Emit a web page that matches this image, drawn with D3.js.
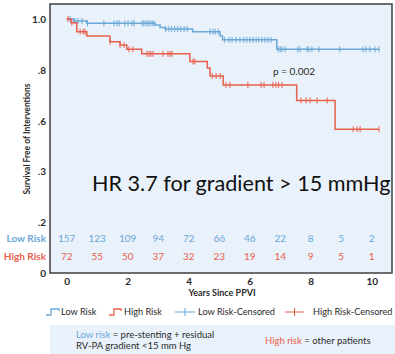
<!DOCTYPE html>
<html>
<head>
<meta charset="utf-8">
<script src="https://cdn.jsdelivr.net/npm/d3@7"></script>
<style>
  body { margin: 0; background: #fff; }
  svg { display: block; font-family: Lato, "Open Sans", sans-serif; }
</style>
</head>
<body>
<div id="chart"></div>
<script>
// Kaplan-Meier steps: [years, survival]
const lowRiskSteps = [[0, 1.0], [0.24, 0.992], [0.66, 0.983], [2.9, 0.976], [3.06, 0.967], [3.22, 0.961],
  [4.13, 0.950], [5.03, 0.933], [5.11, 0.918], [6.89, 0.881], [10.24, 0.881]];
const highRiskSteps = [[0, 1.0], [0.14, 0.985], [0.33, 0.950], [0.66, 0.933], [1.42, 0.911], [1.75, 0.898],
  [1.97, 0.881], [2.46, 0.863], [4.04, 0.833], [4.61, 0.807], [4.70, 0.776], [5.13, 0.741],
  [7.54, 0.680], [8.80, 0.567], [10.24, 0.567]];
const lowRiskCensored = [0.11, 0.27, 0.37, 0.50, 0.68, 1.22, 1.55, 1.65, 1.72, 1.91, 2.01, 2.14, 2.21,
  2.47, 2.53, 2.60, 2.67, 2.73, 2.80, 2.86, 3.25, 3.35, 3.44, 3.54, 3.64, 3.74, 3.85, 3.95,
  4.70, 4.80, 4.87, 4.97, 5.17, 5.32, 5.42, 5.55, 5.68, 5.81, 5.91, 6.01, 6.11, 6.21, 6.30, 6.40,
  6.50, 6.60, 6.70, 6.93, 7.00, 7.06, 7.16, 7.58, 7.65, 7.88, 7.94, 8.04, 8.27, 8.95, 9.71, 9.81,
  9.94, 10.11, 10.24];
const highRiskCensored = [0.04, 0.17, 0.44, 0.54, 0.60, 1.42, 1.75, 1.88, 2.04, 2.17, 2.63, 2.70, 2.76,
  2.83, 3.16, 3.32, 3.39, 3.45, 4.14, 4.20, 4.77, 4.90, 5.03, 5.22, 5.35, 5.94, 6.37, 6.47, 6.76,
  6.86, 6.95, 7.06, 7.68, 7.85, 7.98, 8.21, 8.54, 9.39, 9.52, 9.62, 10.24];
const riskYears = [0, 1, 2, 3, 4, 5, 6, 7, 8, 9, 10];
const lowAtRisk = [157, 123, 109, 94, 72, 66, 46, 22, 8, 5, 2];
const highAtRisk = [72, 55, 50, 37, 32, 23, 19, 14, 9, 5, 1];
const xTicks = [0, 2, 4, 6, 8, 10];
const yTicks = [1.0, 0.8, 0.6, 0.4, 0.2, 0];
const yTickLabels = ["1.0", ".8", ".6", ".3", ".2", "0"];

const blue = "#6aa8d8", red = "#e8604c", ink = "#2b2b2b";
const W = 395, H = 354;
const frame = { left: 50, top: 4, right: 392, bottom: 273 };

const svg = d3.select("#chart").append("svg")
  .attr("width", W)
  .attr("height", H);

const x = d3.scaleLinear().domain([0, 10]).range([66.7, 371.7]);
const y = d3.scaleLinear().domain([0, 1]).range([273.5, 19]);

// plot panel
svg.append("rect")
  .attr("x", frame.left).attr("y", frame.top)
  .attr("width", frame.right - frame.left).attr("height", frame.bottom - frame.top)
  .attr("fill", "#e9f1fa")
  .attr("stroke", "#4a4a4a")
  .attr("stroke-width", 1.6);

// y axis (labels only)
const yAxis = svg.append("g")
  .attr("transform", `translate(${frame.left},0)`)
  .call(d3.axisLeft(y).tickValues(yTicks).tickSize(0).tickPadding(4)
    .tickFormat((d, i) => yTickLabels[i]));
yAxis.select(".domain").remove();
yAxis.selectAll("text")
  .attr("fill", ink)
  .style("font-family", "Lato, sans-serif")
  .style("font-size", "10px")
  .style("font-weight", "bold");

// x axis (labels only)
const xAxis = svg.append("g")
  .attr("transform", `translate(0,${frame.bottom})`)
  .call(d3.axisBottom(x).tickValues(xTicks).tickSize(0).tickPadding(5));
xAxis.select(".domain").remove();
xAxis.selectAll("text")
  .attr("fill", ink)
  .style("font-family", "Lato, sans-serif")
  .style("font-size", "10px")
  .style("font-weight", "bold");

svg.append("text")
  .attr("x", 222).attr("y", 296)
  .attr("text-anchor", "middle")
  .attr("fill", ink)
  .style("font-size", "9px").style("font-weight", "bold")
  .text("Years Since PPVI");

svg.append("text")
  .attr("transform", "translate(30,139) rotate(-90)")
  .attr("text-anchor", "middle")
  .attr("fill", ink)
  .style("font-size", "8.5px").style("font-weight", "bold")
  .text("Survival Free of Interventions");

// survival curves
const line = d3.line()
  .curve(d3.curveStepAfter)
  .x(d => x(d[0]))
  .y(d => y(d[1]));

function valueAt(steps, t) {
  let v = steps[0][1];
  steps.forEach(s => { if (s[0] <= t) v = s[1]; });
  return v;
}

const series = [
  { steps: lowRiskSteps, censored: lowRiskCensored, color: blue },
  { steps: highRiskSteps, censored: highRiskCensored, color: red }
];

series.forEach(s => {
  svg.append("path")
    .attr("d", line(s.steps))
    .attr("fill", "none")
    .attr("stroke", s.color)
    .attr("stroke-width", 1.5);

  svg.append("g").selectAll("line")
    .data(s.censored)
    .enter().append("line")
    .attr("x1", d => x(d)).attr("x2", d => x(d))
    .attr("y1", d => y(valueAt(s.steps, d)) - 3)
    .attr("y2", d => y(valueAt(s.steps, d)) + 3)
    .attr("stroke", s.color)
    .attr("stroke-width", 1);
});

svg.append("text")
  .attr("x", 273).attr("y", 74.5)
  .attr("fill", ink)
  .style("font-size", "10px")
  .text("p = 0.002");

svg.append("text")
  .attr("x", 92).attr("y", 191)
  .attr("fill", "#111")
  .style("font-size", "21.6px")
  .text("HR 3.7 for gradient > 15 mmHg");

// number at risk
const rows = [
  { label: "Low Risk", values: lowAtRisk, color: blue, y: 242 },
  { label: "High Risk", values: highAtRisk, color: red, y: 259.5 }
];
rows.forEach(r => {
  svg.append("text")
    .attr("x", 46).attr("y", r.y)
    .attr("text-anchor", "end")
    .attr("fill", r.color)
    .style("font-size", "10px").style("font-weight", "bold")
    .text(r.label);
  svg.append("g").selectAll("text")
    .data(r.values)
    .enter().append("text")
    .attr("x", (d, i) => x(riskYears[i]))
    .attr("y", r.y)
    .attr("text-anchor", "middle")
    .attr("fill", r.color)
    .style("font-size", "10px")
    .text(d => d);
});

// legend
const leg = svg.append("g").style("font-size", "9.2px").attr("fill", ink);
const legY = 315;
leg.append("path").attr("d", `M46,${legY} H51 V${legY - 6} H59 V${legY - 4}`)
  .attr("fill", "none").attr("stroke", blue).attr("stroke-width", 1.3);
leg.append("text").attr("x", 61).attr("y", legY).text("Low Risk");
leg.append("path").attr("d", `M109,${legY} H114 V${legY - 6} H121 V${legY - 4}`)
  .attr("fill", "none").attr("stroke", red).attr("stroke-width", 1.3);
leg.append("text").attr("x", 124).attr("y", legY).text("High Risk");
[[175, 195, blue, 198, "Low Risk-Censored"], [285, 304, red, 313, "High Risk-Censored"]].forEach(d => {
  leg.append("line").attr("x1", d[0]).attr("x2", d[1]).attr("y1", legY - 3).attr("y2", legY - 3)
    .attr("stroke", d[2]).attr("stroke-width", 1);
  leg.append("line").attr("x1", (d[0] + d[1]) / 2).attr("x2", (d[0] + d[1]) / 2)
    .attr("y1", legY - 7).attr("y2", legY + 1)
    .attr("stroke", d[2]).attr("stroke-width", 1);
  leg.append("text").attr("x", d[3]).attr("y", legY).text(d[4]);
});

// definitions box
svg.append("rect")
  .attr("x", 50).attr("y", 325).attr("width", 345).attr("height", 29)
  .attr("fill", "#e9f1fa");
const note1 = svg.append("text").attr("x", 76).attr("y", 337.5)
  .style("font-size", "9.5px").attr("fill", ink);
note1.append("tspan").attr("fill", blue).text("Low risk");
note1.append("tspan").text(" = pre-stenting + residual");
svg.append("text").attr("x", 76).attr("y", 349)
  .style("font-size", "9.5px").attr("fill", ink)
  .text("RV-PA gradient <15 mm Hg");
const note2 = svg.append("text").attr("x", 265).attr("y", 343.5)
  .style("font-size", "9.5px").attr("fill", ink);
note2.append("tspan").attr("fill", red).text("High risk");
note2.append("tspan").text(" = other patients");
</script>
</body>
</html>
